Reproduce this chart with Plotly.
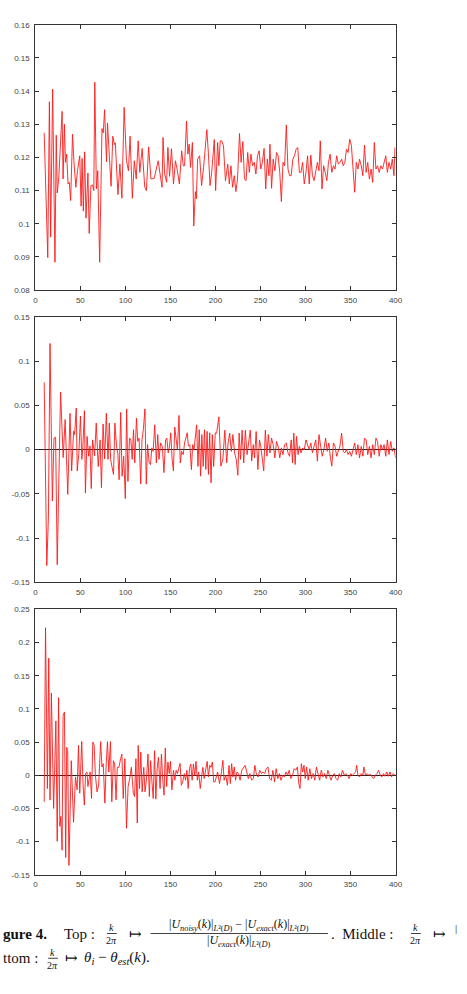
import plotly.graph_objects as go

# ---------------- data ----------------
K_TOP = [9.8,13.8,15.6,17,19.2,21.8,23.2,24.3,26,29.7,30.8,32.3,33.4,34.8,36.3,37.7,39.2,41.3,42.8,45,46.8,49.3,50.8,51.9,53.3,54.8,56.2,58.4,59.8,61.7,63.5,64.9,66,67.8,69.3,71.4,74,75.4,76.9,79,80.1,83,84.1,86,87.8,88.8,91.7,93.9,96.1,98.6,101.2,103.4,105.2,107.7,109.9,112,114.2,116,118.6,121.5,123.3,125.8,128.4,132,136.4,138.5,140.7,141.8,143.6,145.8,147.2,149,151.2,153.4,155.6,157.7,159.9,162.5,164.3,165.7,167.9,169.4,170.8,172.3,174.4,175.9,177.7,178.8,180.2,182.4,184.6,186.8,188.2,190.4,192.2,194,195.8,198.7,200.2,202.4,203.8,205.3,207,208.9,211.1,213.6,215.4,217.2,219,220.9,222.7,224.5,226.7,228.5,230.4,232.2,234,235.8,237.6,239.4,241.2,243.1,244.9,246.7,248.5,250.3,252.1,254,255.8,257.6,259.4,260.5,262.3,264.1,266,267.8,269.6,271.4,273.2,275,276.8,278.7,280.5,282.3,284.1,285.9,287.7,289.6,291.4,293.2,295,296.8,298.6,300.5,302.3,304.1,305.9,307.7,309.5,311.4,313.2,315,316.4,318.3,320.1,321.9,323.7,325.5,327.3,329.2,331,332.8,334.6,336.4,338.2,340.1,341.9,343.7,345.5,347.3,349.1,351,352.8,354.6,356.4,358.2,360,361.9,363.7,365.5,367.3,369.1,370.9,372.8,374.6,376.4,378.2,380,381.8,383.7,385.5,387.3,389.1,390.9,392.7,394.6,396.4,398.2,399.3]
V_TOP = [0.1274,0.0898,0.1368,0.096,0.1406,0.0884,0.1267,0.1093,0.1138,0.1339,0.1135,0.130,0.1185,0.121,0.112,0.1125,0.107,0.127,0.119,0.111,0.116,0.1205,0.1053,0.1197,0.1038,0.1217,0.1017,0.1153,0.0971,0.1115,0.1117,0.110,0.1427,0.1105,0.116,0.0884,0.1287,0.1274,0.1344,0.1187,0.1304,0.1145,0.1113,0.1264,0.1239,0.1244,0.1088,0.118,0.1077,0.1351,0.119,0.116,0.1264,0.1077,0.119,0.1135,0.125,0.1155,0.1227,0.111,0.110,0.1232,0.1135,0.1137,0.119,0.115,0.111,0.126,0.115,0.1125,0.123,0.1143,0.1226,0.112,0.119,0.116,0.112,0.122,0.1175,0.1175,0.131,0.121,0.124,0.117,0.1245,0.0993,0.1097,0.1075,0.1195,0.1205,0.1115,0.117,0.1225,0.1284,0.121,0.1115,0.1155,0.1254,0.110,0.1245,0.1175,0.125,0.125,0.1235,0.113,0.118,0.112,0.1175,0.111,0.1145,0.1097,0.1135,0.1272,0.1185,0.1248,0.1135,0.113,0.1215,0.1155,0.121,0.1175,0.1185,0.115,0.1205,0.122,0.1165,0.1185,0.1227,0.1105,0.1195,0.1145,0.124,0.1107,0.1195,0.116,0.1215,0.1205,0.1155,0.1067,0.1185,0.1175,0.1298,0.1165,0.1145,0.1145,0.1195,0.1205,0.1225,0.123,0.1155,0.1155,0.1185,0.112,0.1155,0.1205,0.112,0.1207,0.1145,0.113,0.1155,0.1185,0.116,0.125,0.1105,0.1175,0.1155,0.113,0.1185,0.121,0.1155,0.1175,0.1165,0.1205,0.118,0.1185,0.1195,0.1175,0.1185,0.1225,0.1215,0.1255,0.1235,0.1155,0.1095,0.1185,0.1165,0.1195,0.1175,0.1145,0.1237,0.1155,0.1185,0.1135,0.1165,0.1125,0.1245,0.1165,0.1175,0.1155,0.1175,0.1165,0.1185,0.1205,0.1155,0.1185,0.1165,0.1195,0.1145,0.123]

K_MID = [9.8,12.7,14.5,16.3,18.9,20.7,22.5,24.3,28,30.9,33.1,36,38.5,40.3,42.5,43.6,45.4,46.5,48.3,50.1,51.6,52.7,54.5,55.6,57.4,59.2,60.7,62.1,63.6,65.8,67.6,69.8,71.9,73.4,75.2,77,78.8,80.7,82.1,83.6,85,86.8,88.3,90.1,91.6,93,94.8,96.3,98.1,99.9,101.4,102.8,104.6,106.1,107.5,109,110.4,112.3,113.7,115.2,117,118.4,119.9,121.7,123.2,124.6,126.4,127.9,129.3,130.8,132.6,134.4,135.9,137.3,139.1,141,142.8,144.6,146,147.5,149,150.4,151.9,153.3,154.8,156.2,157.7,159.5,160.9,162.4,164.2,165.7,167.1,168.6,170,171.5,173.3,174.7,176.2,177.7,179.1,180.6,182,183.5,184.9,186.4,187.8,189.3,190.7,192.2,193.6,195.1,196.5,198,199.8,201.3,203.8,206,208.2,210.4,212.5,214,215.8,217.6,219.4,221.3,223.1,224.9,226.3,227.8,229.6,231.4,233.2,235.1,236.9,238.7,240.2,242,243.4,245.2,247.1,248.9,250.3,252.1,253.6,255.4,257.2,258.7,260.5,262.3,264.1,266,267.8,269.6,271.4,273.2,275,276.8,278.7,280.5,282.3,284.1,285.6,287,288.5,290,291.7,293.2,295,296.8,298.6,300.5,302.3,304.1,305.9,307.7,309.5,311.4,313.2,315,316.8,318.6,320.4,322.3,324.1,325.9,327.7,329.2,331,332.8,334.6,336.4,338.2,340.1,341.9,343.7,345.5,347.3,349.1,351,352.8,354.6,356.4,358.2,360,361.9,363.7,365.5,367.3,369.1,370.9,372.8,374.6,376.4,378.2,380,381.8,383.7,385.5,387.3,389.1,390.9,392.7,394.6,396.4,398.2,400]
V_MID = [0.076,-0.131,-0.077,0.12,-0.058,0.013,0.014,-0.130,0.065,-0.009,0.034,-0.0506,0.041,-0.024,0.021,0.017,0.047,-0.024,-0.004,0.038,-0.011,0.002,0.044,-0.049,0.015,-0.0075,0.004,-0.044,0.011,-0.007,0.03,-0.019,0.011,-0.043,0.029,-0.0105,0.041,-0.011,0.030,-0.011,-0.019,-0.028,0.030,0.004,-0.004,-0.034,0.042,-0.030,-0.0075,-0.0554,0.046,-0.036,0.013,0.011,-0.011,0.0225,-0.015,0.0355,0.0094,0.013,-0.0386,0.011,0.0225,0.046,-0.039,0.0056,-0.015,-0.017,0.002,-0.002,0.028,-0.015,0.017,-0.011,0.0075,0.0037,-0.026,0.011,0.013,-0.0037,0.004,0.019,-0.011,-0.024,0.0255,0.011,0.0,0.0386,-0.015,-0.002,-0.0056,0.0075,0.015,0.019,0.004,0.0056,-0.0225,0.0056,0.0,0.015,0.028,-0.019,0.0225,-0.030,0.017,-0.019,0.0225,-0.0225,0.0206,-0.028,0.019,-0.0375,0.017,-0.019,0.019,0.0187,0.037,-0.0187,-0.011,0.022,-0.015,0.0075,0.0187,-0.002,0.017,-0.004,-0.011,-0.029,0.0187,-0.011,0.022,-0.015,0.022,-0.0056,0.011,0.022,-0.013,0.0056,-0.0093,0.0205,-0.0224,0.011,0.0037,-0.015,-0.024,0.022,-0.0075,0.017,-0.0037,0.013,0.0056,-0.0093,0.0093,0.0037,-0.0093,0.0019,-0.0056,0.0056,0.0075,-0.0037,-0.0075,0.011,-0.015,0.0187,-0.0168,0.015,-0.0056,0.0037,-0.0037,0.0019,0.0,0.011,0.0056,0.0,0.0075,-0.0037,0.0037,0.011,-0.013,0.017,0.0037,-0.0075,0.0,0.013,-0.0019,0.0075,-0.0093,-0.0187,0.0075,0.0037,-0.0075,-0.0019,0.0037,0.0187,-0.0019,-0.0037,0.0,-0.0056,-0.0019,-0.0075,0.0019,0.0075,-0.0056,0.0056,-0.0093,0.0037,-0.0075,0.013,0.011,-0.0056,0.0037,-0.0093,0.0056,-0.0056,0.013,0.0093,-0.0075,0.0056,0.0,0.0056,-0.0075,0.011,-0.0056,0.0093,-0.0019,0.0019,-0.0093]

K_BOT = [9.8,11.3,13.4,14.9,16.3,17.8,20.3,22.8,24.3,25.8,27.2,28.3,29.7,30.8,32.3,33.7,34.8,35.9,37.3,39.9,42.4,44.6,46.4,47.9,49.3,51.5,52.9,54.4,55.8,57.3,58.4,59.8,60.9,62.4,63.8,65.3,66.7,68.5,70.3,72.5,74,75.4,77.2,78.7,80.1,81.6,83.4,84.9,86.7,88.1,89.6,91,92.8,94.7,96.1,97.6,99.4,101.2,103,104.8,106.6,108.8,110.2,111.7,113.2,114.2,115.7,117.1,118.6,120.4,121.8,123.3,125.1,126.6,128,129.5,130.9,132.4,133.8,135.3,136.7,138.5,140,141.5,142.9,144.3,145.8,147.2,148.7,150.1,151.6,153.4,154.9,156.3,157.8,159.2,160.7,162.1,163.6,165.4,166.8,168.3,169.7,171.2,172.6,174.1,175.5,177,178.4,179.9,181.3,183.1,184.6,186,187.5,188.9,190.8,192.2,193.7,195.1,196.6,198,199.5,202.4,204.5,206.7,208.2,209.6,211.4,213.3,215.1,216.5,218,219.4,220.9,222.3,223.8,225.6,227.4,229.2,231.1,232.9,234.7,236.5,238.3,240.2,242,243.8,245.6,247.4,249.2,251.1,252.9,254.7,256.5,258.3,260.1,262,263.8,265.6,267.4,269.2,271,272.8,274.7,276.5,278.3,280.1,281.9,283.7,285.6,287.4,289.2,291,292.5,293.9,295.4,296.8,298.3,299.7,301.2,303,304.8,306.6,308.4,310.3,312.1,313.9,315.7,317.5,319.4,321.2,323,324.8,326.6,328.4,330.3,332.1,333.9,335.7,337.5,339.3,341.1,343,344.8,346.6,348.4,350.2,352,353.9,355.7,356.8,358.2,360,361.9,363.7,364.8,366.6,368.4,370.2,372,373.9,375.7,377.5,379.3,381.1,383,384.7,386.6,388.4,390.2,392,393.8,395.6,397.5,399.3]
V_BOT = [-0.04,0.2225,-0.02,0.1765,-0.0375,0.124,-0.05,0.082,-0.0995,0.117,-0.077,-0.062,-0.113,0.0896,0.0955,-0.124,0.042,0.037,-0.136,0.022,-0.071,-0.0025,-0.022,0.045,-0.027,0.051,-0.012,-0.045,0.0025,0.005,-0.017,-0.0025,0.005,-0.035,0.05,0.045,0.0,-0.025,-0.015,0.0507,0.0124,0.0174,-0.042,0.017,0.0507,0.005,0.0507,-0.04,0.022,0.017,-0.037,0.012,0.012,0.025,0.032,-0.035,0.025,-0.08,-0.017,-0.005,0.012,-0.027,-0.032,0.025,-0.072,0.045,-0.02,0.035,-0.025,0.012,-0.025,-0.0075,0.032,-0.032,0.022,-0.01,-0.035,0.037,-0.036,0.01,0.027,-0.02,0.032,-0.0075,-0.03,0.041,-0.017,0.02,0.0025,0.021,-0.022,0.0075,-0.0075,0.0075,0.0025,0.01,0.018,-0.015,-0.01,0.0025,-0.0075,0.0075,-0.02,0.01,0.017,-0.0075,0.017,0.0,0.021,-0.0075,0.005,-0.02,0.0025,0.012,-0.005,0.0075,0.021,-0.0025,0.015,0.012,0.02,-0.01,-0.01,0.005,-0.0125,0.005,0.0225,-0.0075,0.0,-0.015,0.015,-0.0125,0.0175,-0.0025,0.0125,-0.0075,0.005,0.0025,-0.0075,0.0075,0.0125,0.015,0.005,-0.005,0.0025,-0.0075,-0.005,0.015,0.0,-0.0025,0.0075,0.0025,0.005,0.0025,0.01,0.0125,-0.005,-0.0075,0.0075,-0.01,0.01,-0.005,0.0025,-0.0075,0.0,-0.0025,0.005,0.0,0.0075,-0.005,0.0,0.01,0.0075,0.0125,-0.0125,-0.02,0.0175,0.005,0.015,-0.005,0.0125,-0.0075,0.01,-0.005,0.0025,-0.0075,0.0125,0.0,-0.0075,0.0075,-0.0025,0.0025,-0.005,0.0075,0.0,-0.0075,0.0,0.0025,-0.005,-0.0075,0.0025,-0.0025,0.0075,0.0,0.0025,0.0,-0.005,0.0025,0.0,0.0025,0.005,0.015,0.0,-0.0025,0.0025,0.0,0.0125,0.0,0.0025,0.0,0.0015,-0.0025,-0.005,0.0,0.0025,0.0075,0.0,-0.0025,0.0025,-0.0015,0.005,-0.0015,0.005,-0.0025,0.0025,0.0]

X_TICKS = [0, 50, 100, 150, 200, 250, 300, 350, 400]
X_TICK_TEXT = ["0", "50", "100", "150", "200", "250", "300", "350", "400"]
Y1_TICKS = [0.08, 0.09, 0.10, 0.11, 0.12, 0.13, 0.14, 0.15, 0.16]
Y1_TICK_TEXT = ["0.08", "0.09", "0.1", "0.11", "0.12", "0.13", "0.14", "0.15", "0.16"]
Y2_TICKS = [-0.15, -0.10, -0.05, 0.0, 0.05, 0.10, 0.15]
Y2_TICK_TEXT = ["-0.15", "-0.1", "-0.05", "0", "0.05", "0.1", "0.15"]
Y3_TICKS = [-0.15, -0.10, -0.05, 0.0, 0.05, 0.10, 0.15, 0.20, 0.25]
Y3_TICK_TEXT = ["-0.15", "-0.1", "-0.05", "0", "0.05", "0.1", "0.15", "0.2", "0.25"]

# ---------------- figure ----------------
W, H = 467, 994
RED = "#ff1a1a"


def py(px):
    return 1 - px / H


def px_(x):
    return x / W


fig = go.Figure()
series = [(K_TOP, V_TOP, "x", "y"), (K_MID, V_MID, "x2", "y2"), (K_BOT, V_BOT, "x3", "y3")]
for k, v, xa, ya in series:
    fig.add_trace(go.Scatter(x=k, y=v, xaxis=xa, yaxis=ya, mode="lines",
                             line=dict(color=RED, width=0.9), showlegend=False,
                             hoverinfo="skip"))

tickfont = dict(family="Liberation Sans, Arial, sans-serif", size=8, color="#444")
xdom = [34 / W, 401.3 / W]
panels = [
    ("xaxis", "yaxis", "y", "x", [21, 288.7], [0.08, 0.16], Y1_TICKS, Y1_TICK_TEXT, False),
    ("xaxis2", "yaxis2", "y2", "x2", [315.7, 583.7], [-0.15, 0.15], Y2_TICKS, Y2_TICK_TEXT, True),
    ("xaxis3", "yaxis3", "y3", "x3", [611, 878.7], [-0.15, 0.25], Y3_TICKS, Y3_TICK_TEXT, True),
]
common = dict(showline=True, linecolor="#333", linewidth=1, mirror="allticks",
              ticks="inside", ticklen=4, tickwidth=1, tickcolor="#333",
              showgrid=False, tickfont=tickfont)
layout = {}
for xk, yk, yanchor, xanchor, (top, bot), yr, yt, ytt, zl in panels:
    layout[xk] = dict(domain=xdom, anchor=yanchor, range=[0, 400], tickvals=X_TICKS,
                      ticktext=X_TICK_TEXT, zeroline=False, ticklabelstandoff=2, **common)
    layout[yk] = dict(domain=[py(bot), py(top)], anchor=xanchor, range=yr, tickvals=yt,
                      ticktext=ytt, zeroline=zl, zerolinecolor="#222", zerolinewidth=0.7,
                      ticklabelstandoff=3, **common)

fig.update_layout(width=W, height=H, margin=dict(l=0, r=0, t=0, b=0), autosize=False,
                  paper_bgcolor="white", plot_bgcolor="white", **layout)

# ---------------- caption ----------------
SERIF = "Liberation Serif, DejaVu Serif, serif"
anns = []
shapes = []


def txt(x, y, s, size=15, anchor="left"):
    anns.append(dict(x=px_(x), y=py(y), xref="paper", yref="paper", text=s, showarrow=False,
                     xanchor=anchor, yanchor="middle", font=dict(family=SERIF, size=size, color="#111")))


def frac(xc, ymid, num, den, width, size=10, gap=6, dgap=None):
    txt(xc, ymid - gap, num, size, "center")
    txt(xc, ymid + (dgap if dgap is not None else gap + 1), den, size, "center")
    shapes.append(dict(type="line", xref="paper", yref="paper", x0=px_(xc - width / 2),
                       x1=px_(xc + width / 2), y0=py(ymid), y1=py(ymid),
                       line=dict(color="#111", width=0.8)))


y1 = 938
txt(-1, y1, "<b>gure 4.</b>")
txt(61, y1, "Top :")
frac(112, y1, "<i>k</i>", "2<i>π</i>", 10)
txt(127, y1, "↦")
num = ("|<i>U<sub>noisy</sub></i>(<i>k</i>)|<sub><i>L</i>²(<i>D</i>)</sub>"
       " − |<i>U<sub>exact</sub></i>(<i>k</i>)|<sub><i>L</i>²(<i>D</i>)</sub>")
den = "|<i>U<sub>exact</sub></i>(<i>k</i>)|<sub><i>L</i>²(<i>D</i>)</sub>"
frac(242, y1, num, den, 181, size=12, gap=9, dgap=8)
txt(333, y1, ".  Middle :")
frac(422, y1, "<i>k</i>", "2<i>π</i>", 10)
txt(437, y1, "↦")
txt(460, y1 - 6, "|", 11)

y2 = 963
txt(-1, y2, "ttom :")
frac(52, y2, "<i>k</i>", "2<i>π</i>", 10)
txt(62, y2, "↦")
txt(82, y2, "<i>θ<sub>i</sub></i> − <i>θ<sub>est</sub></i>(<i>k</i>).")

fig.update_layout(annotations=anns, shapes=shapes)
fig.write_html("out.html")
